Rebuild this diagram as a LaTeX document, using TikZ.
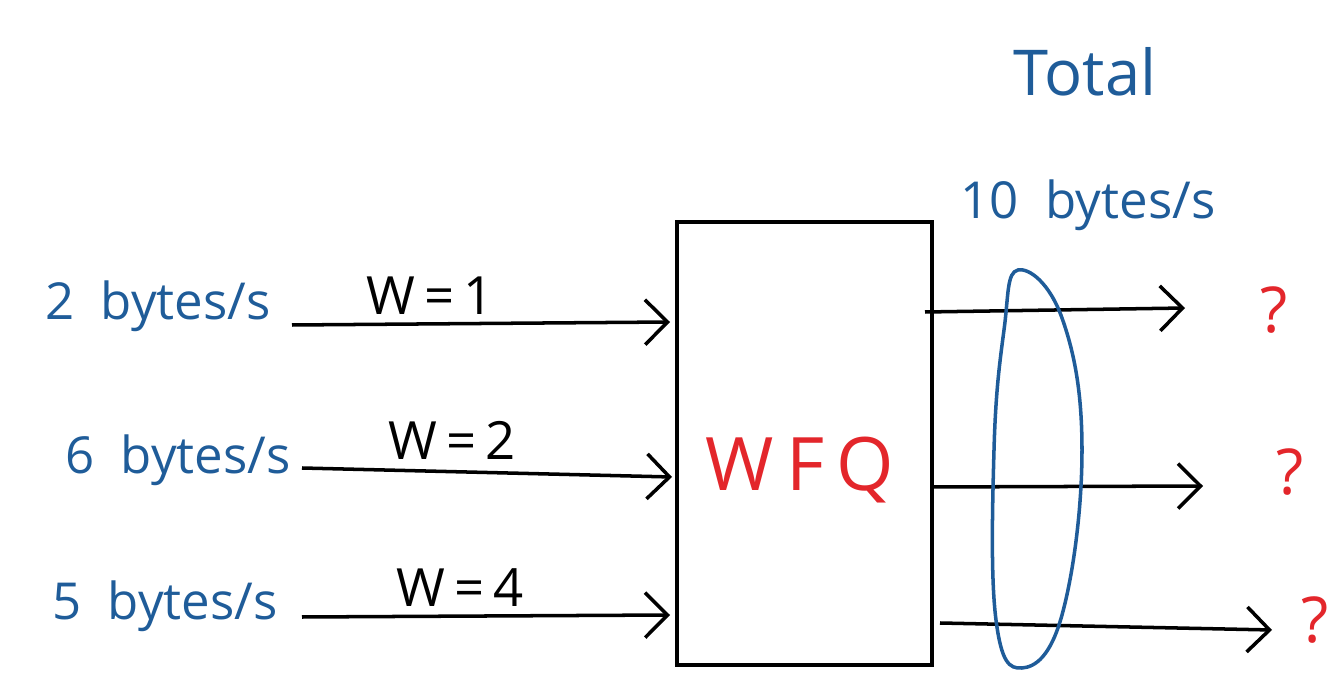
\documentclass[tikz,border=0pt]{standalone}
\usepackage{fontspec}
\setmainfont{Open Sans}
\usetikzlibrary{arrows.meta}
\definecolor{penblue}{HTML}{1F5C99}
\definecolor{penred}{HTML}{E3262B}
\tikzset{
  flow/.style={line width=2pt, -{Straight Barb[length=0.45cm,width=0.9cm,line width=2pt]}},
  rate/.style={text=penblue, font=\fontsize{29}{32}\selectfont, inner sep=0pt},
  weight/.style={text=black, font=\fontsize{30}{32}\selectfont, inner sep=0pt},
  qmark/.style={text=penred, font=\fontsize{36}{40}\selectfont, inner sep=0pt},
}
\begin{document}
\begin{tikzpicture}[x=0.02cm,y=-0.02cm]
\useasboundingbox (0,0) rectangle (1343,695);
% box
\node[draw, line width=2pt, minimum width=5.1cm, minimum height=8.86cm, inner sep=0pt] (wfq) at (804.5,443.5) {};
\node[text=penred, font=\fontsize{42}{46}\selectfont, inner sep=0pt] (wfqlab) at (800,470) {W\,F\,Q};
% input labels
\node[rate] (r1) at (158,306) {2~~bytes/s};
\node[rate] (r2) at (178,460) {6~~bytes/s};
\node[rate] (r3) at (165,606) {5~~bytes/s};
\node[weight] (w1) at (430,296) {W\,=\,1};
\node[weight] (w2) at (452,440) {W\,=\,2};
\node[weight] (w3) at (460,588) {W\,=\,4};
% input arrows
\coordinate (i1s) at (292,325); \coordinate (i1e) at (670,322);
\coordinate (i2s) at (302,468); \coordinate (i2e) at (672,477);
\coordinate (i3s) at (302,617); \coordinate (i3e) at (670,615);
\draw[flow] (i1s) -- (i1e);
\draw[flow] (i2s) -- (i2e);
\draw[flow] (i3s) -- (i3e);
% outputs
\coordinate (o1s) at (925,312); \coordinate (o1e) at (1185,308);
\coordinate (o2s) at (930,487); \coordinate (o2e) at (1203,486);
\coordinate (o3s) at (940,623); \coordinate (o3e) at (1272,630);
\draw[flow] (o1s) -- (o1e);
\draw[flow] (o2s) -- (o2e);
\draw[flow] (o3s) -- (o3e);
\node[qmark] (q1) at (1274,310) {?};
\node[qmark] (q2) at (1290,472) {?};
\node[qmark] (q3) at (1315,620) {?};
% total
\draw[penblue, line width=2pt] plot[smooth cycle, tension=0.7] coordinates {(1018,270) (1062,318) (1082,450) (1062,615) (1022,668) (996,620) (994,450) (1004,330)};
\node[text=penblue, font=\fontsize{36}{40}\selectfont, inner sep=0pt] (total) at (1085,72) {Total};
\node[rate] (tot) at (1088,205) {10~~bytes/s};
\end{tikzpicture}
\end{document}
